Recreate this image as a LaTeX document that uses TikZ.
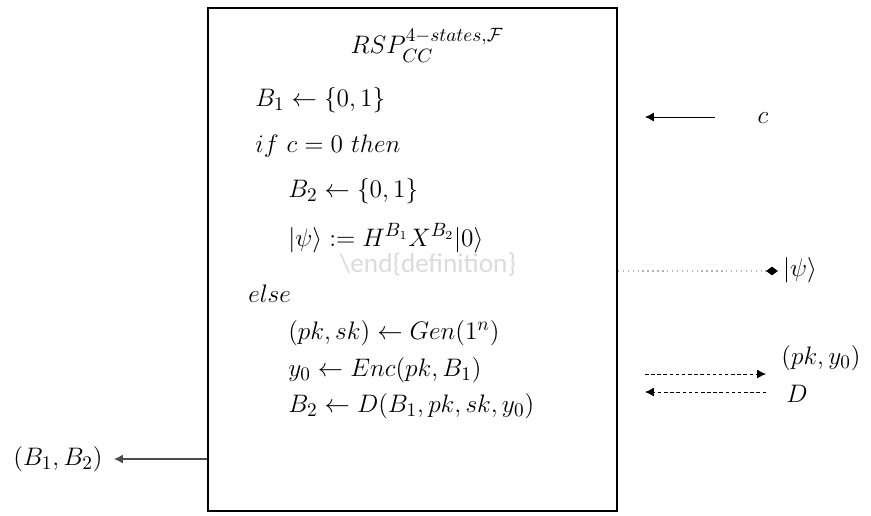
\documentclass[tikz,border=0pt]{standalone}
\usepackage{amsmath}
\usepackage{fontspec}
\usepackage{tikz}
\usetikzlibrary{arrows.meta}
\newfontfamily\ghostfont{Carlito}

\begin{document}
\begin{tikzpicture}[
  x=0.02cm, y=-0.02cm,
  every node/.style={font=\fontsize{15}{18}\selectfont},
  line/.style={anchor=west, inner sep=0pt},
  lbl/.style={inner sep=0pt},
  arr/.style={-{Latex[length=5pt,width=5pt]}, line width=0.45pt},
  dsh/.style={arr, dashed, dash pattern=on 2pt off 1.5pt, line width=0.5pt},
]
\useasboundingbox (0,0) rectangle (871,515);

%% ── Protocol box ─────────────────────────────
\node[draw, line width=1pt, inner sep=0pt,
      minimum width=8.18cm, minimum height=10.06cm] at (412.5,259.5) (rsp) {};

%% ── Box contents ─────────────────────────────
\node[lbl] at (427,45) (title) {$RSP_{CC}^{4-states,\mathcal{F}}$};
\node[line] at (255,100) (l1) {$B_1 \leftarrow \{0,1\}$};
\node[line] at (255,146) (l2) {$if\ c = 0\ then$};
\node[line] at (288,191) (l3) {$B_2 \leftarrow \{0,1\}$};
\node[line] at (288,238) (l4) {$|\psi\rangle := H^{B_1}X^{B_2}|0\rangle$};
\node[line] at (248,294) (l5) {$else$};
\node[line] at (288,333) (l6) {$(pk,sk) \leftarrow Gen(1^n)$};
\node[line] at (288,370) (l7) {$y_0 \leftarrow Enc(pk,B_1)$};
\node[line] at (288,406) (l8) {$B_2 \leftarrow D(B_1,pk,sk,y_0)$};

%% ── Leftover watermark ───────────────────────
\node[lbl, font=\ghostfont\fontsize{15.5}{18}\selectfont, text=black!14]
     at (428,265) (ghost) {\textbackslash end\{definition\}};

%% ── Outside labels ───────────────────────────
\node[lbl] at (763,118) (c)   {$c$};
\node[lbl] at (800,270) (psi) {$|\psi\rangle$};
\node[lbl] at (821,358) (pky) {$(pk,y_0)$};
\node[lbl] at (797,394) (d)   {$D$};
\node[lbl] at (58,459)  (bb)  {$(B_1,B_2)$};

%% ── Arrow end points ─────────────────────────
\coordinate (cOut)  at (715,117);
\coordinate (cIn)   at (645,117);
\coordinate (psiA)  at (rsp.east |- 0,271);
\coordinate (psiB)  at (772,271);
\coordinate (pkA)   at (645,374);
\coordinate (pkB)   at (766,374);
\coordinate (dA)    at (766,392);
\coordinate (dB)    at (645,392);
\coordinate (bbA)   at (rsp.west |- 0,459);
\coordinate (bbB)   at (114,459);

%% ── Arrows ───────────────────────────────────
\draw[arr] (cOut) -- (cIn);
\draw[black!30, dotted, line width=0.8pt] (psiA) -- (psiB);
\draw[fill=black] (psiB) +(-3pt,0) -- +(0,2.2pt) -- +(3pt,0) -- +(0,-2.2pt) -- cycle;
\draw[dsh] (pkA) -- (pkB);
\draw[dsh] (dA) -- (dB);
\draw[arr, black!70, line width=0.6pt] (bbA) -- (bbB);

\end{tikzpicture}
\end{document}
